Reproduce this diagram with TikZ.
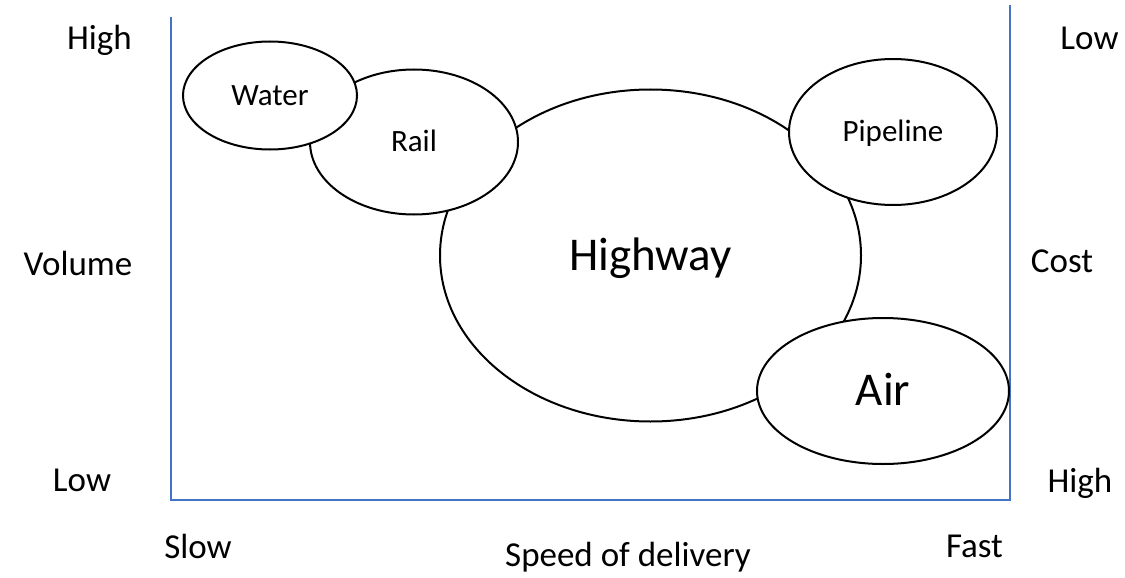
\documentclass[tikz,border=0pt]{standalone}
\usepackage{fontspec}
\setmainfont{Carlito}
\usetikzlibrary{shapes.geometric}
\definecolor{axisblue}{HTML}{4472C4}
\tikzset{
  mode/.style={ellipse, draw=black, line width=2pt, fill=white, inner sep=0pt, text depth=0pt},
  smallmode/.style={mode, font=\fontsize{31}{37}\selectfont, text height=19.6pt},
  bigmode/.style={mode, font=\fontsize{47}{56}\selectfont, text height=29.7pt},
  axislabel/.style={anchor=base, inner sep=0pt, font=\fontsize{35}{42}\selectfont},
  axisline/.style={draw=axisblue, line width=1.3pt}
}
\begin{document}
\begin{tikzpicture}[x=1pt, y=-1pt]
\useasboundingbox (0,0) rectangle (1125,578);

% frame of the chart
\coordinate (lefttop) at (171,17);
\coordinate (origin) at (171,500);
\coordinate (rightbottom) at (1010,500);
\coordinate (righttop) at (1010,5);
\draw[axisline] (lefttop) -- (origin) -- (rightbottom) -- (righttop);

% transport modes, later ones drawn over earlier ones
\node[bigmode, minimum width=421pt, minimum height=332pt] (highway) at (650.5,255.5) {Highway};
\node[smallmode, minimum width=208pt, minimum height=145pt] (rail) at (414,142) {Rail};
\node[smallmode, minimum width=174pt, minimum height=108pt] (water) at (270,95.5) {Water};
\node[smallmode, minimum width=208pt, minimum height=146pt] (pipeline) at (893,132) {Pipeline};
\node[bigmode, minimum width=252pt, minimum height=146pt] (air) at (883,391) {Air};

% volume scale (left)
\node[axislabel] (volhigh) at (99.5,50) {High};
\node[axislabel] (volume) at (78,275) {Volume};
\node[axislabel] (vollow) at (82,491) {Low};

% cost scale (right)
\node[axislabel] (costlow) at (1089.5,50) {Low};
\node[axislabel] (cost) at (1062,272) {Cost};
\node[axislabel] (costhigh) at (1080,492) {High};

% speed scale (bottom)
\node[axislabel] (slow) at (198,558) {Slow};
\node[axislabel] (speed) at (628,566) {Speed of delivery};
\node[axislabel] (fast) at (974.5,557) {Fast};
\end{tikzpicture}
\end{document}
